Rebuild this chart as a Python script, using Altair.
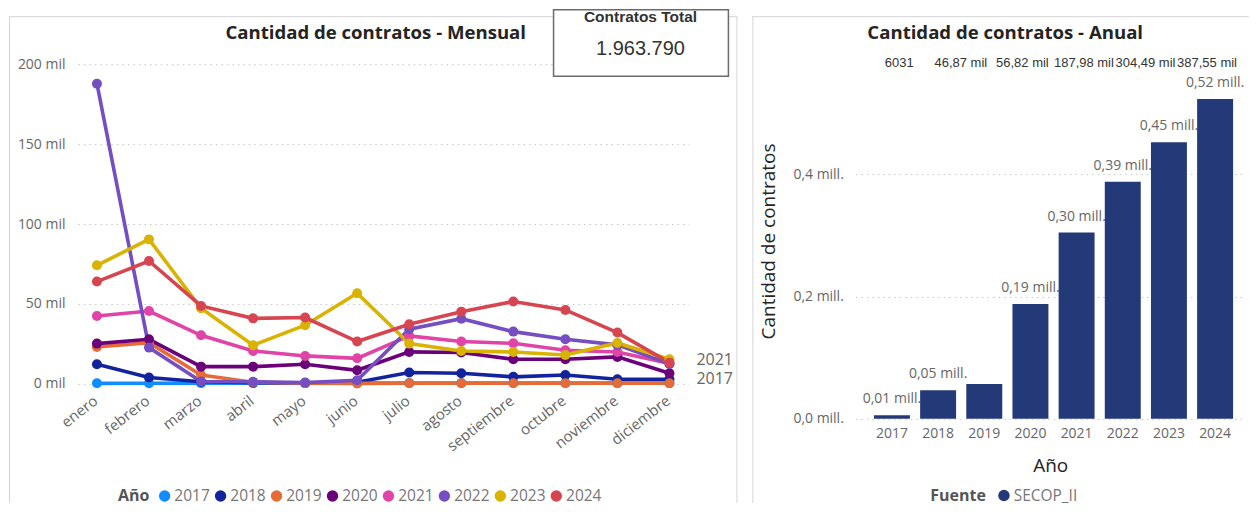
import altair as alt
import pandas as pd

# ---------------- data ----------------
months = ["enero", "febrero", "marzo", "abril", "mayo", "junio", "julio",
          "agosto", "septiembre", "octubre", "noviembre", "diciembre"]
years = ["2017", "2018", "2019", "2020", "2021", "2022", "2023", "2024"]

v2017 = [350, 450, 500, 500, 500, 500, 550, 550, 550, 550, 500, 500]
v2018 = [12300, 4000, 1300, 800, 600, 1000, 7100, 6700, 4400, 5600, 2900, 2900]
v2019 = [23100, 25800, 5600, 1000, 500, 300, 400, 400, 400, 400, 400, 400]
v2020 = [25200, 27900, 10800, 10800, 12300, 8500, 20000, 19600, 15400, 15400, 16900, 6700]
v2021 = [42500, 45600, 30400, 20600, 17500, 16000, 30000, 26500, 25400, 21000, 20000, 12700]
v2022 = [187800, 22700, 1500, 1300, 800, 2300, 34200, 40800, 32700, 27900, 24400, 12500]
v2023 = [74200, 90400, 47300, 24200, 36700, 56700, 25200, 20600, 20000, 18100, 25600, 15400]
v2024 = [64000, 76900, 48750, 41000, 41500, 26500, 37300, 45200, 51500, 46250, 32100, 13300]
series = [v2017, v2018, v2019, v2020, v2021, v2022, v2023, v2024]
year_colors = ["#118DFF", "#12239E", "#E66C37", "#6B007B",
               "#E044A7", "#744EC2", "#D9B300", "#D64550"]
end_label_years = ["2021", "2017"]

annual = [6031, 46870, 56820, 187980, 304490, 387550, 452000, 523000]
annual_labels = ["0,01 mill.", "0,05 mill.", "", "0,19 mill.", "0,30 mill.",
                 "0,39 mill.", "0,45 mill.", "0,52 mill."]
top_labels = ["6031", "46,87 mil", "56,82 mil", "187,98 mil", "304,49 mil", "387,55 mil"]
fuente = "SECOP_II"

card_title = "Contratos Total"
card_value = "1.963.790"
title_left = "Cantidad de contratos - Mensual"
title_right = "Cantidad de contratos - Anual"

# ---------------- tables ----------------
df_m = pd.DataFrame([
    {"mes": m, "anio": y, "valor": v}
    for y, vals in zip(years, series) for m, v in zip(months, vals)
])
df_a = pd.DataFrame({"anio": years, "valor": annual, "etiqueta": annual_labels,
                     "fuente": [fuente] * len(years)})
df_top = pd.DataFrame({"idx": [str(i) for i in range(len(top_labels))], "txt": top_labels})
deco = pd.DataFrame({"k": [0]})

FONT = "Open Sans"
GRAY = "#666666"
DARK = "#252423"
FRAME = "#D4D4D4"
NAVY = "#243A78"

# ---------------- left chart ----------------
xm = alt.X("mes:N", sort=months,
           scale=alt.Scale(type="point", padding=0.365),
           axis=alt.Axis(title=None, labelAngle=-38, labelFontSize=15, labelColor=GRAY,
                         ticks=False, domain=False, grid=False, labelPadding=9,
                         labelOffset=-6))
ym = alt.Y("valor:Q", scale=alt.Scale(domain=[0, 210000], nice=False),
           axis=alt.Axis(title=None, values=[0, 50000, 100000, 150000, 200000],
                         labelExpr="format(datum.value/1000,'d') + ' mil'",
                         labelFontSize=14, labelColor=GRAY, labelPadding=13,
                         ticks=False, domain=False, grid=True,
                         gridColor="#C8C8C8", gridDash=[1.5, 4]))
cscale = alt.Scale(domain=years, range=year_colors)
left_legend = alt.Legend(orient="none", legendX=40, legendY=440,
                         direction="horizontal", titleOrient="left",
                         title="Año", titleFontSize=16, titleFontWeight="bold",
                         titleColor="#555555", titleFont=FONT, titleLimit=300,
                         titleBaseline="middle", titleAnchor="middle",
                         labelFontSize=15.5, labelColor="#777777", labelFont=FONT,
                         symbolType="circle", symbolSize=130,
                         symbolStrokeWidth=0, symbolOpacity=1, columnPadding=3,
                         labelOffset=2, titlePadding=7, labelLimit=80)

base_m = alt.Chart(df_m)
lines = base_m.mark_line(strokeWidth=3.6).encode(
    x=xm, y=ym, color=alt.Color("anio:N", scale=cscale, legend=left_legend))
points = base_m.mark_circle(size=100, opacity=1).encode(
    x=xm, y=ym, color=alt.Color("anio:N", scale=cscale, legend=left_legend))
end_labels = base_m.mark_text(align="left", dx=27, dy=-4, fontSize=16, color=GRAY,
                              font=FONT).encode(
    x=xm, y=ym, text="anio:N"
).transform_filter(alt.FieldOneOfPredicate(field="anio", oneOf=end_label_years)
).transform_filter(alt.datum.mes == months[-1])

d = alt.Chart(deco)
lf_top = d.mark_rule(color=FRAME, strokeWidth=1).encode(
    x=alt.value(-69), x2=alt.value(660), y=alt.value(-31.5))
lf_left = d.mark_rule(color=FRAME, strokeWidth=1).encode(
    x=alt.value(-68.5), y=alt.value(-32), y2=alt.value(455))
lf_right = d.mark_rule(color=FRAME, strokeWidth=1).encode(
    x=alt.value(659.5), y=alt.value(-32), y2=alt.value(455))
lt = d.mark_text(text=title_left, fontSize=18.6, fontWeight="bold", color=DARK,
                 font=FONT).encode(x=alt.value(298), y=alt.value(-15))
card = d.mark_rect(fill="white", stroke="#6B6B6B", strokeWidth=1.5).encode(
    x=alt.value(476), x2=alt.value(651), y=alt.value(-38.5), y2=alt.value(28))
card_t = d.mark_text(text=card_title, fontSize=15.5, fontWeight="bold", color="#333333",
                     font="Liberation Sans").encode(x=alt.value(563), y=alt.value(-31))
card_v = d.mark_text(text=card_value, fontSize=20, color="#333333",
                     font="Liberation Sans").encode(x=alt.value(563), y=alt.value(1))

left = alt.layer(lf_top, lf_left, lf_right, lines, points, end_labels, lt,
                 card, card_t, card_v).properties(width=611, height=336)

# ---------------- right chart ----------------
xa = alt.X("anio:N", sort=years,
           scale=alt.Scale(paddingInner=0.221, paddingOuter=0.331, align=0.61),
           axis=alt.Axis(title="Año", titleFontSize=19, titleColor=DARK,
                         titleFontWeight="normal", titleFont=FONT,
                         titleY=47, titleBaseline="middle",
                         labelAngle=0, labelFontSize=14, labelColor=GRAY, labelPadding=8,
                         ticks=False, domain=False, grid=False))
ya = alt.Y("valor:Q", scale=alt.Scale(domain=[0, 606000], nice=False),
           axis=alt.Axis(title="Cantidad de contratos", titleFontSize=19, titleColor=DARK,
                         titleFontWeight="normal", titleFont=FONT,
                         titleX=-87, titleY=193, titleAlign="center",
                         titleBaseline="middle", titleAngle=270,
                         values=[0, 200000, 400000],
                         labelExpr="replace(format(datum.value/1000000,'.1f'),'.',',') + ' mill.'",
                         labelFontSize=14, labelColor=GRAY, labelPadding=12,
                         ticks=False, domain=False, grid=True,
                         gridColor="#C8C8C8", gridDash=[1.5, 4]))

base_a = alt.Chart(df_a)
bar_labels = base_a.mark_text(dy=-12, baseline="alphabetic", fontSize=14, color=GRAY,
                              font=FONT).encode(x=xa, y=ya, text="etiqueta:N")
bars = base_a.mark_bar().encode(
    x=xa, y=ya,
    color=alt.Color("fuente:N", scale=alt.Scale(domain=[fuente], range=[NAVY]),
                    legend=alt.Legend(orient="none", legendX=75, legendY=440,
                                      direction="horizontal", titleOrient="left",
                                      title="Fuente", titleFontSize=16, titleFontWeight="bold",
                                      titleColor="#555555", titleFont=FONT, titleLimit=300,
                                      titleBaseline="middle", titleAnchor="middle",
                                      labelFontSize=15.5, labelColor="#777777", labelFont=FONT,
                                      symbolType="circle", symbolSize=130,
                                      symbolStrokeWidth=0, labelOffset=2, titlePadding=10,
                                      labelLimit=150)))
inner = alt.layer(bar_labels, bars)

top_txt = alt.Chart(df_top).mark_text(fontSize=13, color="#333333",
                                      font="Liberation Sans").encode(
    x=alt.X("idx:O", scale=alt.Scale(type="point", range=[44, 352], padding=0), axis=None),
    y=alt.value(15), text="txt:N")

rf_top = d.mark_rule(color=FRAME, strokeWidth=1).encode(
    x=alt.value(-103), x2=alt.value(394), y=alt.value(-31.5))
rf_left = d.mark_rule(color=FRAME, strokeWidth=1).encode(
    x=alt.value(-102.5), y=alt.value(-32), y2=alt.value(455))
rt = d.mark_text(text=title_right, fontSize=18.6, fontWeight="bold", color=DARK,
                 font=FONT).encode(x=alt.value(150), y=alt.value(-15))

right = alt.layer(rf_top, rf_left, inner, top_txt, rt).resolve_scale(
    x="independent").properties(width=390, height=371)

chart = alt.hconcat(left, right, spacing=167, bounds="flush").resolve_scale(
    color="independent").properties(padding=0).configure(
    font=FONT).configure_view(stroke=None)

chart.save("out.html", embed_options={"renderer": "svg", "actions": False})
